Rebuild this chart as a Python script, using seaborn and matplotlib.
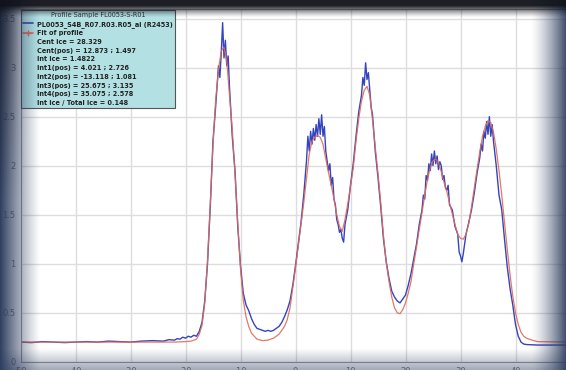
import numpy as np
import pandas as pd
import matplotlib
matplotlib.use("Agg")
import matplotlib.pyplot as plt
from matplotlib.lines import Line2D
import seaborn as sns

# ---------------- data ----------------
fit_x = [-50, -40, -30, -25, -22, -20, -19, -18, -17.5, -17, -16.5, -16, -15.5, -15,
         -14.5, -14, -13.5, -13, -12.5, -12, -11.5, -11, -10.5, -10, -9.5, -9, -8.5,
         -8, -7, -6, -5, -4, -3, -2, -1.5, -1, -0.5, 0, 0.5, 1, 1.5, 2, 2.5, 3, 3.5,
         4, 4.5, 5, 5.5, 6, 6.5, 7, 7.5, 8, 8.5, 9, 9.5, 10, 10.5, 11, 11.5, 12, 12.5,
         13, 13.5, 14, 14.5, 15, 15.5, 16, 16.5, 17, 17.5, 18, 18.5, 19, 19.5, 20,
         20.5, 21, 21.5, 22, 22.5, 23, 23.5, 24, 24.5, 25, 25.5, 26, 26.5, 27, 27.5,
         28, 28.5, 29, 29.5, 30, 30.5, 31, 31.5, 32, 32.5, 33, 33.5, 34, 34.5, 35,
         35.5, 36, 36.5, 37, 37.5, 38, 38.5, 39, 39.5, 40, 40.5, 41, 41.5, 42, 43,
         44, 50]
fit_y = [0.20, 0.20, 0.20, 0.20, 0.20, 0.205, 0.21, 0.23, 0.28, 0.37, 0.60, 1.03, 1.60,
         2.22, 2.68, 2.98, 3.17, 3.21, 3.07, 2.72, 2.37, 1.92, 1.42, 0.95, 0.63, 0.46,
         0.36, 0.29, 0.23, 0.215, 0.22, 0.24, 0.28, 0.36, 0.43, 0.55, 0.75, 0.96, 1.18,
         1.40, 1.62, 1.87, 2.12, 2.25, 2.29, 2.31, 2.29, 2.22, 2.07, 1.93, 1.80, 1.66,
         1.50, 1.38, 1.33, 1.45, 1.61, 1.79, 1.98, 2.25, 2.48, 2.66, 2.77, 2.81, 2.72,
         2.47, 2.19, 1.92, 1.62, 1.28, 1.01, 0.82, 0.66, 0.55, 0.50, 0.49, 0.53, 0.60,
         0.70, 0.82, 1.00, 1.17, 1.35, 1.52, 1.70, 1.86, 1.98, 2.05, 2.07, 2.03, 1.94,
         1.83, 1.74, 1.62, 1.51, 1.40, 1.30, 1.26, 1.25, 1.30, 1.41, 1.58, 1.77, 1.96,
         2.14, 2.30, 2.40, 2.46, 2.44, 2.34, 2.17, 1.95, 1.70, 1.42, 1.15, 0.89, 0.67,
         0.50, 0.38, 0.30, 0.26, 0.24, 0.22, 0.205, 0.20]

data_x = [-50, -48, -46, -44, -42, -40, -38, -36, -34, -32, -30, -28, -26, -24, -23, -22,
          -21.5, -21, -20.5, -20, -19.5, -19, -18.5, -18, -17.5, -17, -16.5, -16, -15.5,
          -15, -14.5, -14, -13.75, -13.5, -13.25, -13, -12.75, -12.5, -12.25, -12, -11.5,
          -11, -10.5, -10, -9.5, -9, -8.5, -8, -7.5, -7, -6.5, -6, -5.5, -5, -4.5, -4,
          -3.5, -3, -2.5, -2, -1.5, -1, -0.5, 0, 0.5, 1, 1.5, 2, 2.25, 2.5, 2.75, 3,
          3.25, 3.5, 3.75, 4, 4.25, 4.5, 4.75, 5, 5.25, 5.5, 5.75, 6, 6.25, 6.5, 6.75,
          7, 7.25, 7.5, 7.75, 8, 8.25, 8.5, 8.75, 9, 9.5, 10, 10.5, 11, 11.5, 12, 12.25,
          12.5, 12.75, 13, 13.25, 13.5, 13.75, 14, 14.5, 15, 15.5, 16, 16.5, 17, 17.5,
          18, 18.5, 19, 19.5, 20, 20.5, 21, 21.5, 22, 22.5, 23, 23.25, 23.5, 23.75, 24,
          24.25, 24.5, 24.75, 25, 25.25, 25.5, 25.75, 26, 26.25, 26.5, 26.75, 27, 27.25,
          27.5, 27.75, 28, 28.5, 29, 29.5, 29.75, 30, 30.25, 30.5, 31, 31.5, 32, 32.5,
          33, 33.5, 33.75, 34, 34.25, 34.5, 34.75, 35, 35.25, 35.5, 35.75, 36, 36.5, 37,
          37.5, 38, 38.5, 39, 39.5, 40, 40.5, 41, 41.5, 42, 44, 46, 48, 50]
data_y = [0.20, 0.195, 0.205, 0.20, 0.195, 0.20, 0.205, 0.20, 0.21, 0.205, 0.20, 0.21,
          0.215, 0.21, 0.225, 0.22, 0.235, 0.23, 0.25, 0.24, 0.26, 0.25, 0.27, 0.26,
          0.31, 0.40, 0.62, 1.00, 1.58, 2.25, 2.62, 3.02, 2.90, 3.15, 3.46, 3.10, 3.28,
          3.02, 3.12, 2.80, 2.30, 1.95, 1.38, 0.98, 0.70, 0.58, 0.52, 0.44, 0.38, 0.34,
          0.33, 0.32, 0.31, 0.32, 0.31, 0.32, 0.34, 0.36, 0.40, 0.46, 0.53, 0.62, 0.78,
          0.98, 1.20, 1.42, 1.70, 2.05, 2.30, 2.15, 2.35, 2.22, 2.38, 2.26, 2.42, 2.30,
          2.48, 2.32, 2.52, 2.30, 2.40, 2.15, 2.05, 1.95, 2.02, 1.80, 1.88, 1.66, 1.60,
          1.45, 1.40, 1.32, 1.35, 1.26, 1.22, 1.40, 1.55, 1.80, 2.02, 2.30, 2.55, 2.72,
          2.90, 2.82, 3.05, 2.88, 2.95, 2.78, 2.60, 2.52, 2.15, 1.88, 1.58, 1.25, 1.02,
          0.85, 0.72, 0.66, 0.62, 0.60, 0.64, 0.68, 0.78, 0.90, 1.05, 1.20, 1.40, 1.55,
          1.70, 1.66, 1.90, 1.85, 2.02, 1.95, 2.12, 2.00, 2.15, 2.02, 2.10, 1.96, 2.04,
          2.00, 1.86, 1.90, 1.78, 1.75, 1.80, 1.60, 1.55, 1.38, 1.30, 1.12, 1.08, 1.02,
          1.10, 1.30, 1.42, 1.55, 1.72, 1.92, 2.08, 2.22, 2.15, 2.35, 2.28, 2.45, 2.32,
          2.50, 2.30, 2.42, 2.25, 2.00, 1.70, 1.55, 1.25, 0.97, 0.75, 0.58, 0.38, 0.26,
          0.20, 0.18, 0.175, 0.17, 0.17, 0.17, 0.17]

x_ticks = [-50, -40, -30, -20, -10, 0, 10, 20, 30, 40, 50]
y_ticks = [0, 0.5, 1, 1.5, 2, 2.5, 3, 3.5]

legend_title = "Profile Sample FL0053-S-R01"
legend_labels = ["PL0053_S4B_R07.R03.R05_ai (R2453)",
                 "Fit of profile",
                 "Cent ice = 28.329",
                 "Cent(pos) = 12.873 ; 1.497",
                 "Int ice = 1.4822",
                 "Int1(pos) = 4.021 ; 2.726",
                 "Int2(pos) = -13.118 ; 1.081",
                 "Int3(pos) = 25.675 ; 3.135",
                 "Int4(pos) = 35.075 ; 2.578",
                 "Int ice / Total ice = 0.148"]

# ---------------- figure ----------------
sns.set_theme(style="whitegrid")
plt.rcParams['font.family'] = ['DejaVu Sans']

W, H = 566, 370
fig = plt.figure(figsize=(W / 100, H / 100), dpi=100)
fig.patch.set_facecolor("white")

px_left, px_right = 20.5, 570.5
px_bottom, px_top = 361.7, 361.7 - 3.6 * 98
ax = fig.add_axes([px_left / W, (H - px_bottom) / H,
                   (px_right - px_left) / W, (px_bottom - px_top) / H])

blue = "#3444bd"
red = "#e06a58"

df_data = pd.DataFrame({"x": data_x, "y": data_y})
df_fit = pd.DataFrame({"x": fit_x, "y": fit_y})
sns.lineplot(data=df_data, x="x", y="y", ax=ax, color=blue, lw=1.0,
             sort=False, estimator=None, legend=False)
sns.lineplot(data=df_fit, x="x", y="y", ax=ax, color=red, lw=0.9,
             sort=False, estimator=None, legend=False, alpha=0.9)

ax.set_xlim(-50, 50)
ax.set_ylim(0, 3.6)
ax.set_xticks(x_ticks)
ax.set_yticks(y_ticks)
ax.set_xticklabels([str(v) for v in x_ticks])
ax.set_yticklabels([f"{v:g}" for v in y_ticks])
ax.tick_params(axis="both", labelsize=6, colors="#777777", length=2, width=0.8,
               direction="out", pad=1.5)
ax.set_xlabel("")
ax.set_ylabel("")
ax.grid(True, color="#dddddd", lw=1.0)
ax.set_facecolor("white")
for s in ax.spines.values():
    s.set_color("#999999")
    s.set_linewidth(0.8)

handles = [Line2D([], [], color=blue, lw=1.2),
           Line2D([], [], color=red, lw=1.2, marker="+", markersize=4)]
handles += [Line2D([], [], color="none", lw=0) for _ in legend_labels[2:]]
leg = ax.legend(handles, legend_labels, title=legend_title, loc="upper left",
                bbox_to_anchor=(0.0, 1.0), fontsize=4.7, title_fontsize=4.7,
                frameon=True, fancybox=False, facecolor="#b3e1e3",
                edgecolor="#555555", framealpha=1.0, labelspacing=0.42,
                handlelength=1.5, handletextpad=0.6, borderpad=0.35,
                borderaxespad=0.1)
leg.get_frame().set_linewidth(0.8)
for t in leg.get_texts():
    t.set_color("#222222")
    t.set_fontweight("bold")
leg.get_title().set_color("#333333")

# ---------------- screen vignette ----------------
yy, xx = np.mgrid[0:H, 0:W].astype(float)
left = np.clip(1 - xx / 40.0, 0, 1) ** 1.2 * 0.97
right = np.clip((xx - 530) / 36.0, 0, 1) ** 1.4 * 0.92
bottom = np.clip((yy - 348) / 22.0, 0, 1) * 0.45
alpha_side = 1 - (1 - left) * (1 - right) * (1 - bottom)
side = np.zeros((H, W, 4))
side[..., 0] = 42 / 255
side[..., 1] = 58 / 255
side[..., 2] = 92 / 255
side[..., 3] = alpha_side
fig.figimage(side, xo=0, yo=0, origin="upper", zorder=10)

top = np.clip(1 - (yy - 5) / 12.0, 0, 1) ** 1.3 * 0.95
corner = np.clip(1 - xx / 25.0, 0, 1) * np.clip(1 - yy / 200.0, 0, 1) * 0.6
alpha_top = 1 - (1 - top) * (1 - corner)
dark = np.zeros((H, W, 4))
dark[..., 0] = 16 / 255
dark[..., 1] = 18 / 255
dark[..., 2] = 26 / 255
dark[..., 3] = alpha_top
fig.figimage(dark, xo=0, yo=0, origin="upper", zorder=11)

fig.savefig("out.png", dpi=100)
